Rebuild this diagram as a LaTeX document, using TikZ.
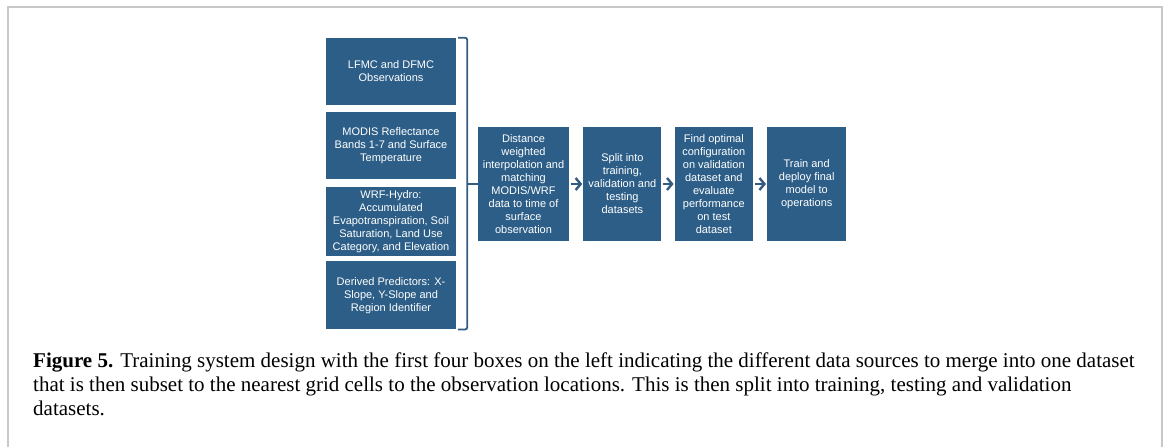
\documentclass[tikz,border=0pt]{standalone}
\usepackage{fontspec}
\setmainfont{Liberation Serif}
\newfontfamily\boxfont{Liberation Sans}
\usepackage{tikz}
\usetikzlibrary{positioning, arrows.meta, calc}
\usepackage{xcolor}
\definecolor{stageblue}{RGB}{44, 94, 135}
\definecolor{linkblue}{RGB}{52, 92, 128}
\definecolor{framegray}{RGB}{200, 200, 200}

\begin{document}
\begin{tikzpicture}[
  x=1pt, y=-1pt,
  node distance=7pt and 14pt,
  src/.style={fill=stageblue, text=white, minimum width=130pt, minimum height=67pt, inner sep=1pt, align=center, font=\boxfont\fontsize{11}{13}\selectfont},
  stage/.style={src, minimum width=78pt, minimum height=114pt},
  arr/.style={-{Straight Barb[length=5pt, width=12pt]}, line width=2.4pt, draw=linkblue, shorten <=1.5pt, shorten >=1pt},
  brace/.style={line width=1.8pt, draw=linkblue, rounded corners=2pt}
]
\useasboundingbox (0,0) rectangle (1167,447);
\draw[framegray, line width=2pt] (7.5,447) |- (1162,6.5) -- (1162,447);

% data sources
\node[src] (obs) at (391,71.5) {LFMC and DFMC\\Observations};
\node[src, below=of obs] (modis) {MODIS Reflectance\\Bands 1-7 and Surface\\Temperature};
\node[src, below=of modis, minimum height=69pt] (wrf) {WRF-Hydro:\\Accumulated\\Evapotranspiration, Soil\\Saturation, Land Use\\Category, and Elevation};
\node[src, below=5pt of wrf, minimum height=68pt] (derived) {Derived Predictors: X-\\Slope, Y-Slope and\\Region Identifier};

% processing chain
\node[stage, minimum width=91pt] (interp) at (523.5,184) {Distance\\weighted\\interpolation and\\matching\\MODIS/WRF\\data to time of\\surface\\observation};
\node[stage, right=14pt of interp] (split) {Split into\\training,\\validation and\\testing\\datasets};
\node[stage, right=13pt of split] (tune) {Find optimal\\configuration\\on validation\\dataset and\\evaluate\\performance\\on test\\dataset};
\node[stage, right=14pt of tune, minimum width=79pt] (deploy) {Train and\\deploy final\\model to\\operations};

% merge bracket
\coordinate (bx) at ([xshift=11pt]obs.north east);
\draw[brace] ([xshift=2pt]obs.north east) -| ([xshift=11pt]derived.south east) -- ([xshift=2pt]derived.south east);
\draw[brace] (bx |- interp.west) -- (interp.west);

\draw[arr] (interp) -- (split);
\draw[arr] (split) -- (tune);
\draw[arr] (tune) -- (deploy);

% caption
\node[anchor=north west, align=left, inner sep=0pt, font=\fontsize{21}{24}\selectfont] (cap) at (33,353)
  {\textbf{Figure 5.} Training system design with the first four boxes on the left indicating the different data sources to merge into one dataset\\
   that is then subset to the nearest grid cells to the observation locations. This is then split into training, testing and validation\\
   datasets.};
\end{tikzpicture}
\end{document}
